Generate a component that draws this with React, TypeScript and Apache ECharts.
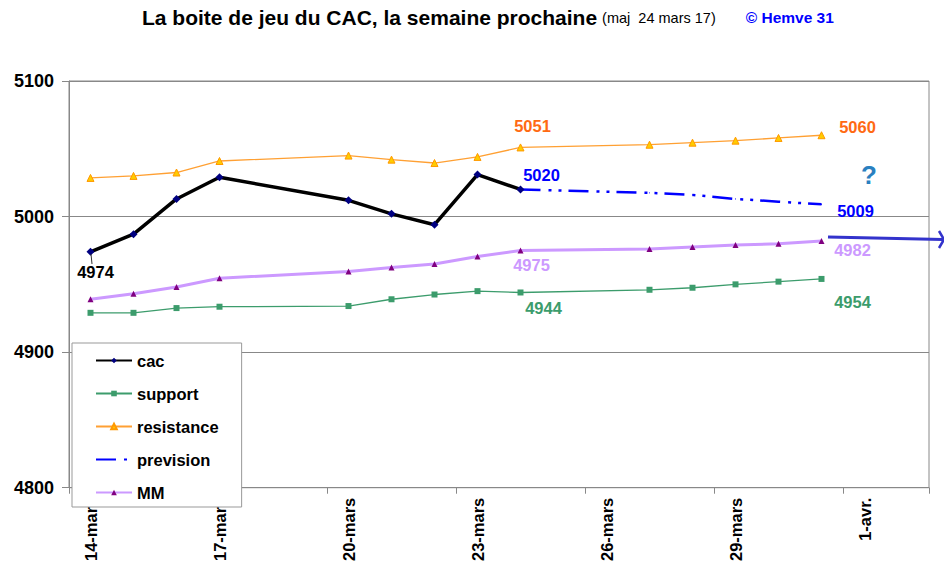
import React, { useEffect, useRef } from 'react';
import * as echarts from 'echarts';

const categories = [
  '14-mars', '15-mars', '16-mars', '17-mars', '18-mars', '19-mars', '20-mars',
  '21-mars', '22-mars', '23-mars', '24-mars', '25-mars', '26-mars', '27-mars',
  '28-mars', '29-mars', '30-mars', '31-mars', '1-avr.', '2-avr.',
];

const cac = [4974, 4987, 5013, 5029, null, null, 5012, 5002, 4994, 5031, 5020,
  null, null, null, null, null, null, null, null, null];
const support = [4929, 4929, 4932.5, 4933.5, null, null, 4934, 4939, 4942.5, 4945, 4944,
  null, null, 4946, 4947.5, 4950, 4952, 4954, null, null];
const resistance = [5028.5, 5030, 5032.5, 5041, null, null, 5045, 5042, 5039.5, 5044, 5051,
  null, null, 5053, 5054.5, 5056, 5058, 5060, null, null];
const prevision = [null, null, null, null, null, null, null, null, null, null, 5020,
  null, null, 5017.5, 5016, 5013, 5011, 5009, null, null];
const mm = [4939, 4943, 4948, 4954.5, null, null, 4959.5, 4962.5, 4965, 4970.5, 4975,
  null, null, 4976, 4977.5, 4979, 4980, 4982, null, null];

const yTicks = { min: 4800, max: 5100, step: 100 };

const FONT = '"Liberation Sans", Arial, Helvetica, sans-serif';

type LabelSpec = { [idx: number]: { offset: [number, number]; color: string } };

function withLabels(values: (number | null)[], spec: LabelSpec) {
  return values.map((v, i) => {
    const s = spec[i];
    if (v === null || !s) return v;
    return {
      value: v,
      label: {
        show: true,
        position: 'inside',
        offset: s.offset,
        color: s.color,
        fontSize: 16.5,
        fontWeight: 'bold',
        fontFamily: FONT,
        formatter: '{c}',
      },
    };
  });
}

export default function App() {
  const ref = useRef<HTMLDivElement>(null);

  useEffect(() => {
    const chart = echarts.init(ref.current!, null, { renderer: 'svg' });
    const option: any = {
      animation: false,
      backgroundColor: '#ffffff',
      textStyle: { fontFamily: FONT },
      title: {
        left: 142,
        top: 7,
        padding: 0,
        text: '{a|La boite de jeu du CAC, la semaine prochaine} {b|(maj  24 mars 17)}      {c|© Hemve 31}',
        textStyle: {
          fontWeight: 'normal',
          rich: {
            a: { fontSize: 21, fontWeight: 'bold', color: '#000', fontFamily: FONT },
            b: { fontSize: 14.5, fontWeight: 'normal', color: '#000', fontFamily: FONT },
            c: { fontSize: 15.5, fontWeight: 'bold', color: '#0000ff', fontFamily: FONT },
          },
        },
      },
      grid: {
        left: 69, right: 15, top: 81, bottom: 75,
        show: true, borderColor: '#888', borderWidth: 1,
      },
      legend: {
        orient: 'vertical',
        left: 72,
        top: 343,
        z: 10,
        itemWidth: 36,
        itemHeight: 7,
        itemGap: 16,
        padding: [9, 23, 6, 23],
        backgroundColor: '#ffffff',
        borderColor: '#999',
        borderWidth: 1,
        textStyle: { fontSize: 16.5, fontWeight: 'bold', color: '#000', fontFamily: FONT },
        data: [
          'cac', 'support', 'resistance',
          { name: 'prevision', itemStyle: { color: 'rgba(0,0,0,0)', borderWidth: 0 } },
          'MM',
        ],
      },
      xAxis: {
        type: 'category',
        data: categories,
        boundaryGap: true,
        axisLine: { lineStyle: { color: '#888', width: 1 } },
        axisTick: { show: true, interval: 2, length: 6, lineStyle: { color: '#888' } },
        axisLabel: {
          interval: 2, rotate: 90, fontSize: 16.5, fontWeight: 'bold',
          color: '#000', margin: 10, fontFamily: FONT,
        },
        splitLine: { show: false },
      },
      yAxis: {
        type: 'value',
        min: yTicks.min,
        max: yTicks.max,
        interval: yTicks.step,
        axisLine: { show: true, lineStyle: { color: '#888' } },
        axisTick: { show: true, length: 7, lineStyle: { color: '#888' } },
        axisLabel: {
          fontSize: 18, fontWeight: 'bold', color: '#000', margin: 15, fontFamily: FONT,
          formatter: (v: number) => String(v),
        },
        splitLine: { show: true, lineStyle: { color: '#888', width: 1 } },
      },
      series: [
        {
          name: 'cac', type: 'line', connectNulls: true, showAllSymbol: true,
          symbol: 'diamond', symbolSize: 8, z: 5,
          lineStyle: { color: '#000', width: 3.5 },
          itemStyle: { color: '#000080' },
          data: withLabels(cac, {
            0: { offset: [5, 20], color: '#000' },
            10: { offset: [21, -14], color: '#0000ff' },
          }),
        },
        {
          name: 'support', type: 'line', connectNulls: true, showAllSymbol: true,
          symbol: 'rect', symbolSize: 6,
          lineStyle: { color: '#3c9c6c', width: 1.3 },
          itemStyle: { color: '#3c9c6c' },
          data: withLabels(support, {
            10: { offset: [23, 16], color: '#3c9c6c' },
            17: { offset: [31, 23], color: '#3c9c6c' },
          }),
        },
        {
          name: 'resistance', type: 'line', connectNulls: true, showAllSymbol: true,
          symbol: 'triangle', symbolSize: 7,
          lineStyle: { color: '#ffa033', width: 1.3 },
          itemStyle: { color: '#ffcc00', borderColor: '#ff9900', borderWidth: 1 },
          data: withLabels(resistance, {
            10: { offset: [12, -21], color: '#ff6a13' },
            17: { offset: [36, -8], color: '#ff6a13' },
          }),
        },
        {
          name: 'prevision', type: 'line', connectNulls: true, showAllSymbol: true,
          symbol: 'circle', symbolSize: 1,
          lineStyle: { color: '#0000ff', width: 2.5, type: [20, 8, 3, 7, 3, 7] },
          itemStyle: { color: '#0000ff' },
          data: withLabels(prevision, {
            17: { offset: [34, 7], color: '#0000ff' },
          }),
        },
        {
          name: 'MM', type: 'line', connectNulls: true, showAllSymbol: true,
          symbol: 'triangle', symbolSize: 6,
          lineStyle: { color: '#cc99ff', width: 3 },
          itemStyle: { color: '#800080' },
          data: withLabels(mm, {
            10: { offset: [11, 15], color: '#cc99ff' },
            17: { offset: [31, 9], color: '#cc99ff' },
          }),
        },
      ],
      graphic: [
        {
          type: 'text', left: 861, top: 162, z: 20,
          style: { text: '?', fontSize: 26, fontWeight: 'bold', fill: '#2a80c0', fontFamily: FONT },
        },
        {
          type: 'line', z: 20,
          shape: { x1: 828, y1: 237, x2: 943, y2: 239.5 },
          style: { stroke: '#3333cc', lineWidth: 3 },
        },
        {
          type: 'polyline', z: 20,
          shape: { points: [[939, 231], [944, 239.5], [939, 248]] },
          style: { stroke: '#3333cc', lineWidth: 2.5, fill: 'none' },
        },
        {
          type: 'line', z: 20,
          shape: { x1: 91, y1: 254, x2: 92, y2: 264 },
          style: { stroke: '#333', lineWidth: 1 },
        },
      ],
    };
    chart.setOption(option);
    return () => chart.dispose();
  }, []);

  return (
    <div
      ref={ref}
      style={{ position: 'fixed', left: 0, top: 0, width: 944, height: 564, background: '#fff' }}
    />
  );
}
